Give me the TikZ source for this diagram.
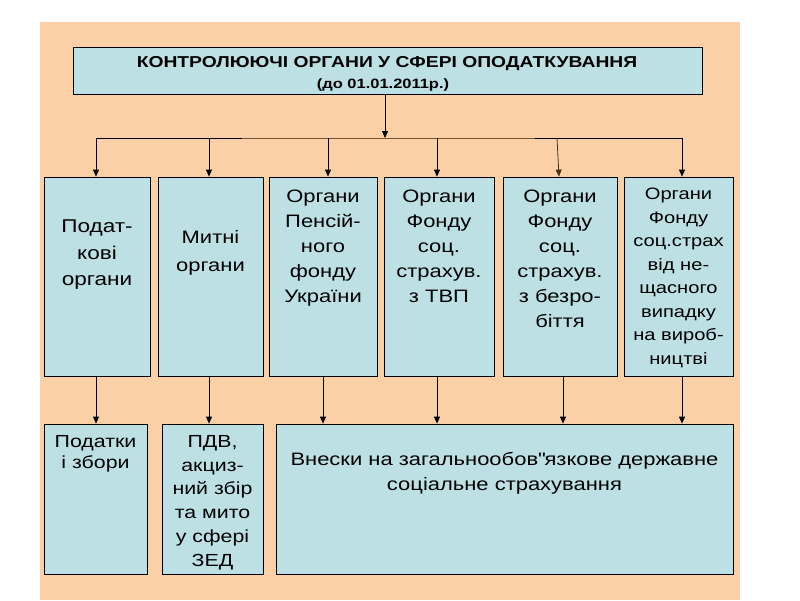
\documentclass[tikz,border=0pt]{standalone}
\usepackage{fontspec}
\setmainfont{Liberation Sans}[FakeStretch=1.22]
\usetikzlibrary{arrows.meta,calc}
\definecolor{bg}{RGB}{251,208,166}
\definecolor{boxc}{RGB}{188,224,228}
\definecolor{brn}{RGB}{115,85,55}
\newcommand{\strq}{\XeTeXglyph\the\XeTeXcharglyph"22\relax}
\begin{document}
\begin{tikzpicture}[x=1pt,y=-1pt,
  box/.style={draw=black,line width=0.8pt,fill=boxc,inner sep=0pt},
  arr/.style={line width=0.8pt,-{Triangle[width=6pt,length=7pt]}},
  txt/.style={inner sep=0pt,align=center,anchor=north,font=\fontsize{18}{25}\selectfont}]
\useasboundingbox (0,0) rectangle (800,600);
\fill[bg] (40,22) rectangle (740,600);
% top box
\node[box,minimum width=629pt,minimum height=47pt] (top) at (387.5,70.5) {};
\node[inner sep=0pt,font=\bfseries\fontsize{15.8}{18}\selectfont] (title) at (387,64) {КОНТРОЛЮЮЧІ ОРГАНИ У СФЕРІ ОПОДАТКУВАННЯ};
\node[inner sep=0pt,font=\bfseries\fontsize{13.5}{16}\selectfont] (subtitle) at (383,85) {(до 01.01.2011р.)};
% middle boxes
\node[box,minimum width=106pt,minimum height=199pt] (m1) at (97,276.5) {};
\node[box,minimum width=105pt,minimum height=199pt] (m2) at (210.5,276.5) {};
\node[box,minimum width=108pt,minimum height=199pt] (m3) at (323,276.5) {};
\node[box,minimum width=110pt,minimum height=199pt] (m4) at (439,276.5) {};
\node[box,minimum width=114pt,minimum height=199pt] (m5) at (560,276.5) {};
\node[box,minimum width=109pt,minimum height=199pt] (m6) at (678.5,276.5) {};
\node[txt,font=\fontsize{18.5}{26.5}\selectfont] (t1) at (97,220) {Подат-\\кові\\органи};
\node[txt,font=\fontsize{18}{28}\selectfont] (t2) at (210.5,230) {Митні\\органи};
\node[txt] (t3) at (323,190) {Органи\\Пенсій-\\ного\\фонду\\України};
\node[txt] (t4) at (439,190) {Органи\\Фонду\\соц.\\страхув.\\з ТВП};
\node[txt] (t5) at (560,190) {Органи\\Фонду\\соц.\\страхув.\\з безро-\\біття};
\node[txt,font=\fontsize{16.5}{23.5}\selectfont] (t6) at (678.5,188) {Органи\\Фонду\\соц.страх\\від не-\\щасного\\випадку\\на~вироб-\\ництві};
% bottom boxes
\node[box,minimum width=103pt,minimum height=150pt] (b1) at (95.5,499) {};
\node[box,minimum width=101pt,minimum height=150pt] (b2) at (212.5,499) {};
\node[box,minimum width=457pt,minimum height=150pt] (b3) at (504.5,499) {};
\node[txt,font=\fontsize{17.5}{21.5}\selectfont] (u1) at (95.5,435) {Податки\\і збори};
\node[txt,font=\fontsize{17.5}{23.8}\selectfont] (u2) at (212.5,435) {ПДВ,\\акциз-\\ний~збір\\та~мито\\у сфері\\ЗЕД};
\node[txt] (u3) at (504.5,452) {Внески~на загальнообов\strq язкове державне\\соціальне~страхування};
% connectors
\coordinate (j1) at (96,138);
\coordinate (j6) at (682,138);
\coordinate (jt) at (385,138);
\draw[line width=0.8pt] (j1) -- (j6);
\draw[line width=0.8pt,brn] (242,138) -- (535,138);
\draw[arr] (top.south -| jt) -- (jt);
\draw[arr] (j1) -- (j1 |- m1.north);
\draw[arr] ([xshift=-1.5pt]m2.north |- j1) -- ([xshift=-1.5pt]m2.north);
\draw[arr] ([xshift=5pt]m3.north |- j1) -- ([xshift=5pt]m3.north);
\draw[arr] ([xshift=-2pt]m4.north |- j1) -- ([xshift=-2pt]m4.north);
\draw[arr,brn!60!black] ([xshift=-3pt]m5.north |- j1) -- ([xshift=-1pt]m5.north);
\draw[arr] (j6) -- (j6 |- m6.north);
\draw[arr] ([xshift=-1pt]m1.south) -- ([xshift=-1pt]m1.south |- b1.north);
\draw[arr] ([xshift=-1.5pt]m2.south) -- ([xshift=-1.5pt]m2.south |- b2.north);
\draw[arr] (m3.south) -- (m3.south |- b3.north);
\draw[arr] ([xshift=-2pt]m4.south) -- ([xshift=-2pt]m4.south |- b3.north);
\draw[arr] ([xshift=3pt]m5.south) -- ([xshift=3pt]m5.south |- b3.north);
\draw[arr] ([xshift=3.5pt]m6.south) -- ([xshift=3.5pt]m6.south |- b3.north);
\end{tikzpicture}
\end{document}
